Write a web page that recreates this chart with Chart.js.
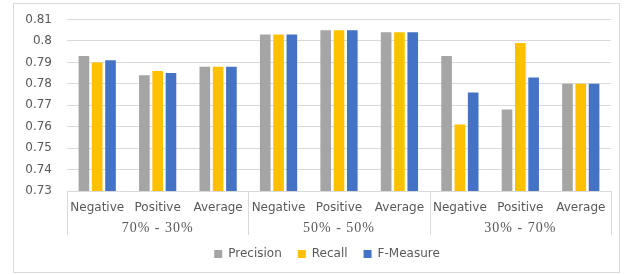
<!DOCTYPE html>
<html>
<head>
<meta charset="utf-8">
<script src="https://cdn.jsdelivr.net/npm/chart.js@4/dist/chart.umd.min.js"></script>
<style>
  html, body { margin: 0; padding: 0; background: #fff; }
  #box {
    position: absolute; left: 13px; top: 3px;
    width: 607px; height: 270px;
    border: 1px solid #d9d9d9; box-sizing: border-box;
  }
</style>
</head>
<body>
<div id="box"><canvas id="chart"></canvas></div>
<script>
const categories = ['Negative', 'Positive', 'Average', 'Negative', 'Positive', 'Average', 'Negative', 'Positive', 'Average'];
const groups = ['70% - 30%', '50% - 50%', '30% - 70%'];
const precision = [0.793, 0.784, 0.788, 0.803, 0.805, 0.804, 0.793, 0.768, 0.780];
const recall = [0.790, 0.786, 0.788, 0.803, 0.805, 0.804, 0.761, 0.799, 0.780];
const fMeasure = [0.791, 0.785, 0.788, 0.803, 0.805, 0.804, 0.776, 0.783, 0.780];

const TEXT = '#595959';
const GRID = '#d9d9d9';

// second level of the category axis: group names + separators
const groupAxis = {
    id: 'groupAxis',
    afterLayout(chart) {
        // legend is centred a bit left of the plot, like the original
        chart.legend.left = 29;
    },
    afterDraw(chart) {
        const x = chart.scales.x;
        const ctx = chart.ctx;
        const per = categories.length / groups.length;
        const step = x.getPixelForValue(1) - x.getPixelForValue(0);
        ctx.save();
        ctx.strokeStyle = GRID;
        ctx.lineWidth = 1;
        for (let g = 0; g <= groups.length; g++) {
            const px = Math.round(x.getPixelForValue(g * per) - step / 2) + 0.5;
            ctx.beginPath();
            ctx.moveTo(px, x.top);
            ctx.lineTo(px, x.top + 44);
            ctx.stroke();
        }
        ctx.fillStyle = TEXT;
        ctx.font = '14px "Liberation Serif"';
        ctx.letterSpacing = '1px';
        ctx.textAlign = 'center';
        ctx.textBaseline = 'middle';
        groups.forEach((g, i) => {
            const c = (x.getPixelForValue(i * per) + x.getPixelForValue(i * per + per - 1)) / 2;
            ctx.fillText(g, c, x.top + 37);
        });
        ctx.restore();
    }
};

new Chart(document.getElementById('chart'), {
    type: 'bar',
    data: {
        labels: categories,
        datasets: [
            { label: 'Precision', data: precision, backgroundColor: '#a5a5a5' },
            { label: 'Recall', data: recall, backgroundColor: '#ffc000' },
            { label: 'F-Measure', data: fMeasure, backgroundColor: '#4472c4' }
        ]
    },
    options: {
        responsive: true,
        maintainAspectRatio: false,
        animation: false,
        categoryPercentage: 0.66,
        barPercentage: 0.8,
        layout: { padding: { top: 15.5, right: 8, left: 0, bottom: 2 } },
        plugins: {
            legend: {
                position: 'bottom',
                fullSize: false,
                labels: {
                    boxWidth: 8, boxHeight: 8, padding: 16,
                    color: TEXT,
                    font: { family: 'DejaVu Sans', size: 12 }
                }
            },
            tooltip: { enabled: false }
        },
        scales: {
            x: {
                grid: { display: false, drawTicks: false },
                border: { display: true, color: GRID },
                ticks: { color: TEXT, padding: 10, maxRotation: 0, autoSkip: false,
                         font: { family: 'DejaVu Sans', size: 12 } },
                afterFit(scale) { scale.height = 41; }
            },
            y: {
                min: 0.73, max: 0.81,
                grid: { color: GRID, drawTicks: false },
                border: { display: false },
                ticks: { stepSize: 0.01, color: TEXT, padding: 15,
                         font: { family: 'DejaVu Sans', size: 12 },
                         callback: v => +v.toFixed(2) },
                afterFit(scale) {
                    scale.width = 53;
                    scale.paddingTop = 0;
                    scale.paddingBottom = 0;
                }
            }
        }
    },
    plugins: [groupAxis]
});
</script>
</body>
</html>
